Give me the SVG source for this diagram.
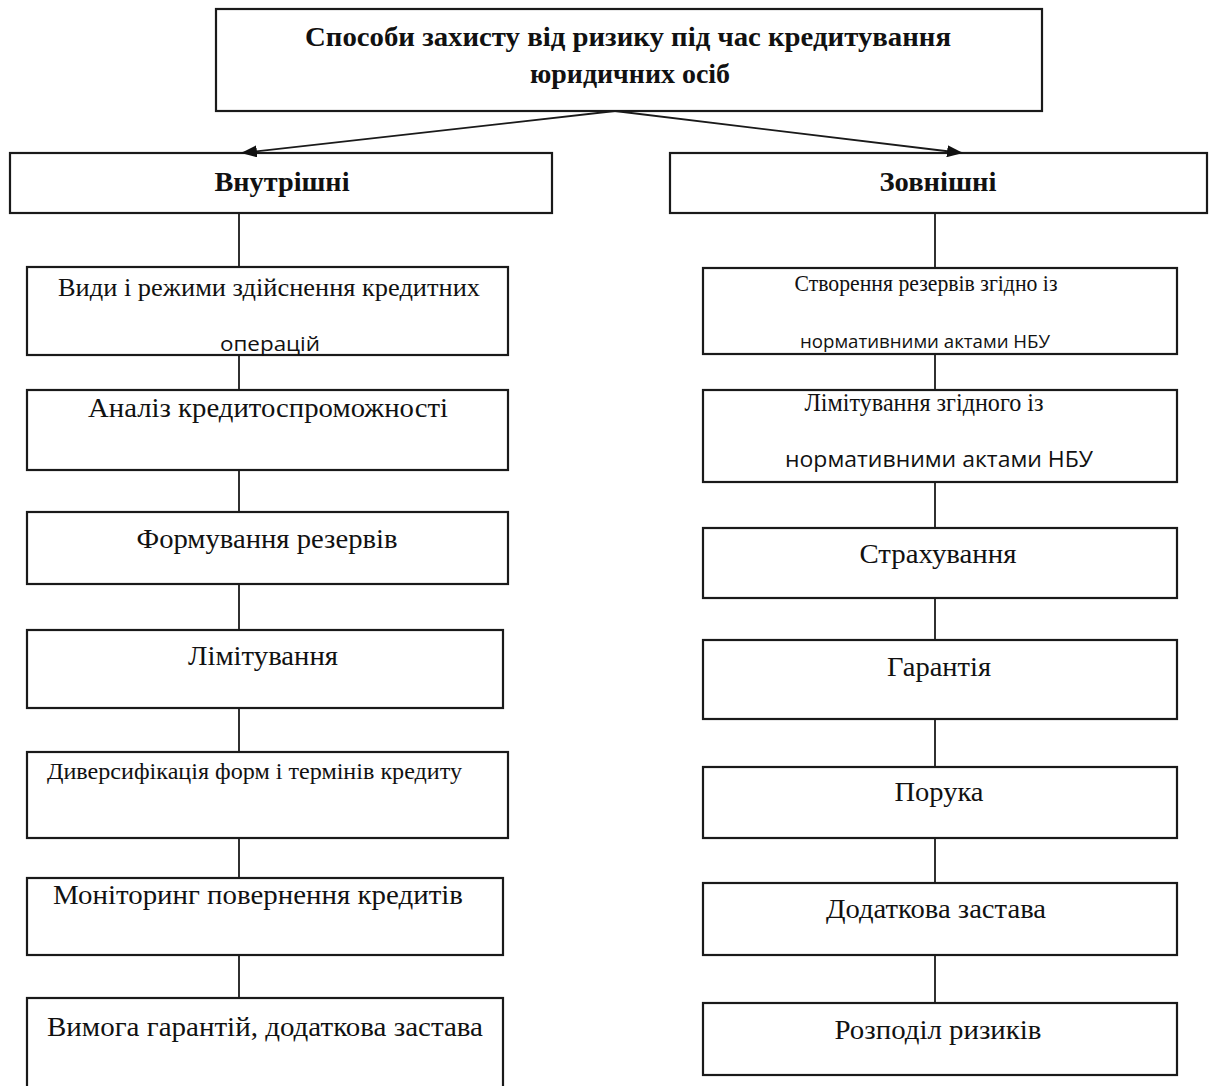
<svg xmlns="http://www.w3.org/2000/svg" width="1210" height="1086" viewBox="0 0 1210 1086">
<style>
.box{fill:#fff;stroke:#1a1a1a;stroke-width:2.2}
.ln{stroke:#1a1a1a;stroke-width:1.8;fill:none}
.t{font-family:"Liberation Serif","Times New Roman",serif;font-size:27px;fill:#111;text-anchor:middle}
.b{font-weight:bold;font-size:28px}
.s{font-family:"Open Sans","Liberation Sans",sans-serif;font-size:18px;fill:#111;text-anchor:middle}
</style>
<defs>
<marker id="ah" markerWidth="16" markerHeight="12" refX="15" refY="6" orient="auto" markerUnits="userSpaceOnUse">
<path d="M0,0 L16,6 L0,12 Z" fill="#111"/>
</marker>
</defs>
<rect width="1210" height="1086" fill="#fff"/>

<g id="root">
<rect class="box" x="216" y="9" width="826" height="102"/>
<text class="t b" x="628" y="46" textLength="646" lengthAdjust="spacingAndGlyphs">Способи захисту від ризику під час кредитування</text>
<text class="t b" x="630" y="83" textLength="200" lengthAdjust="spacingAndGlyphs">юридичних осіб</text>
</g>

<g id="internal">
<rect class="box" x="10" y="153" width="542" height="60"/>
<text class="t b" x="282" y="191" textLength="135" lengthAdjust="spacingAndGlyphs">Внутрішні</text>
</g>
<g id="external">
<rect class="box" x="670" y="153" width="537" height="60"/>
<text class="t b" x="938" y="191" textLength="117" lengthAdjust="spacingAndGlyphs">Зовнішні</text>
</g>

<g id="l1">
<rect class="box" x="27" y="267" width="481" height="88"/>
<text class="t" x="269" y="296" style="font-size:26px" textLength="422" lengthAdjust="spacingAndGlyphs">Види і режими здійснення кредитних</text>
<text class="s" x="270" y="351" style="font-size:20px" textLength="100" lengthAdjust="spacingAndGlyphs">операцій</text>
</g>
<g id="l2">
<rect class="box" x="27" y="390" width="481" height="80"/>
<text class="t" x="268" y="417" textLength="360" lengthAdjust="spacingAndGlyphs">Аналіз кредитоспроможності</text>
</g>
<g id="l3">
<rect class="box" x="27" y="512" width="481" height="72"/>
<text class="t" x="267" y="548" textLength="261" lengthAdjust="spacingAndGlyphs">Формування резервів</text>
</g>
<g id="l4">
<rect class="box" x="27" y="630" width="476" height="78"/>
<text class="t" x="263" y="665" textLength="150" lengthAdjust="spacingAndGlyphs">Лімітування</text>
</g>
<g id="l5">
<rect class="box" x="27" y="752" width="481" height="86"/>
<text class="t" x="47" y="779" style="text-anchor:start;font-size:23px" textLength="415" lengthAdjust="spacingAndGlyphs">Диверсифікація форм і термінів кредиту</text>
</g>
<g id="l6">
<rect class="box" x="27" y="878" width="476" height="77"/>
<text class="t" x="258" y="904" textLength="410" lengthAdjust="spacingAndGlyphs">Моніторинг повернення кредитів</text>
</g>
<g id="l7">
<rect class="box" x="27" y="998" width="476" height="100"/>
<text class="t" x="265" y="1036" textLength="436" lengthAdjust="spacingAndGlyphs">Вимога гарантій, додаткова застава</text>
</g>

<g id="r1">
<rect class="box" x="703" y="268" width="474" height="86"/>
<text class="t" x="926" y="291" style="font-size:23px" textLength="263" lengthAdjust="spacingAndGlyphs">Створення резервів згідно із</text>
<text class="s" x="925" y="348" style="font-size:19px" textLength="250" lengthAdjust="spacingAndGlyphs">нормативними актами НБУ</text>
</g>
<g id="r2">
<rect class="box" x="703" y="390" width="474" height="92"/>
<text class="t" x="924" y="411" style="font-size:25px" textLength="239" lengthAdjust="spacingAndGlyphs">Лімітування згідного із</text>
<text class="s" x="939" y="467" style="font-size:21px" textLength="308" lengthAdjust="spacingAndGlyphs">нормативними актами НБУ</text>
</g>
<g id="r3">
<rect class="box" x="703" y="528" width="474" height="70"/>
<text class="t" x="938" y="563" textLength="157" lengthAdjust="spacingAndGlyphs">Страхування</text>
</g>
<g id="r4">
<rect class="box" x="703" y="640" width="474" height="79"/>
<text class="t" x="939" y="676" textLength="104" lengthAdjust="spacingAndGlyphs">Гарантія</text>
</g>
<g id="r5">
<rect class="box" x="703" y="767" width="474" height="71"/>
<text class="t" x="939" y="801" textLength="89" lengthAdjust="spacingAndGlyphs">Порука</text>
</g>
<g id="r6">
<rect class="box" x="703" y="883" width="474" height="72"/>
<text class="t" x="936" y="918" textLength="220" lengthAdjust="spacingAndGlyphs">Додаткова застава</text>
</g>
<g id="r7">
<rect class="box" x="703" y="1003" width="474" height="72"/>
<text class="t" x="938" y="1039" textLength="207" lengthAdjust="spacingAndGlyphs">Розподіл ризиків</text>
</g>

<g id="connectors">
<line class="ln" x1="615" y1="111" x2="242" y2="153" marker-end="url(#ah)"/>
<line class="ln" x1="615" y1="111" x2="962" y2="153" marker-end="url(#ah)"/>
<line class="ln" x1="239" y1="213" x2="239" y2="267"/>
<line class="ln" x1="239" y1="355" x2="239" y2="390"/>
<line class="ln" x1="239" y1="470" x2="239" y2="512"/>
<line class="ln" x1="239" y1="584" x2="239" y2="630"/>
<line class="ln" x1="239" y1="708" x2="239" y2="752"/>
<line class="ln" x1="239" y1="838" x2="239" y2="878"/>
<line class="ln" x1="239" y1="955" x2="239" y2="998"/>
<line class="ln" x1="935" y1="213" x2="935" y2="268"/>
<line class="ln" x1="935" y1="354" x2="935" y2="390"/>
<line class="ln" x1="935" y1="482" x2="935" y2="528"/>
<line class="ln" x1="935" y1="598" x2="935" y2="640"/>
<line class="ln" x1="935" y1="719" x2="935" y2="767"/>
<line class="ln" x1="935" y1="838" x2="935" y2="883"/>
<line class="ln" x1="935" y1="955" x2="935" y2="1003"/>
</g>
</svg>
